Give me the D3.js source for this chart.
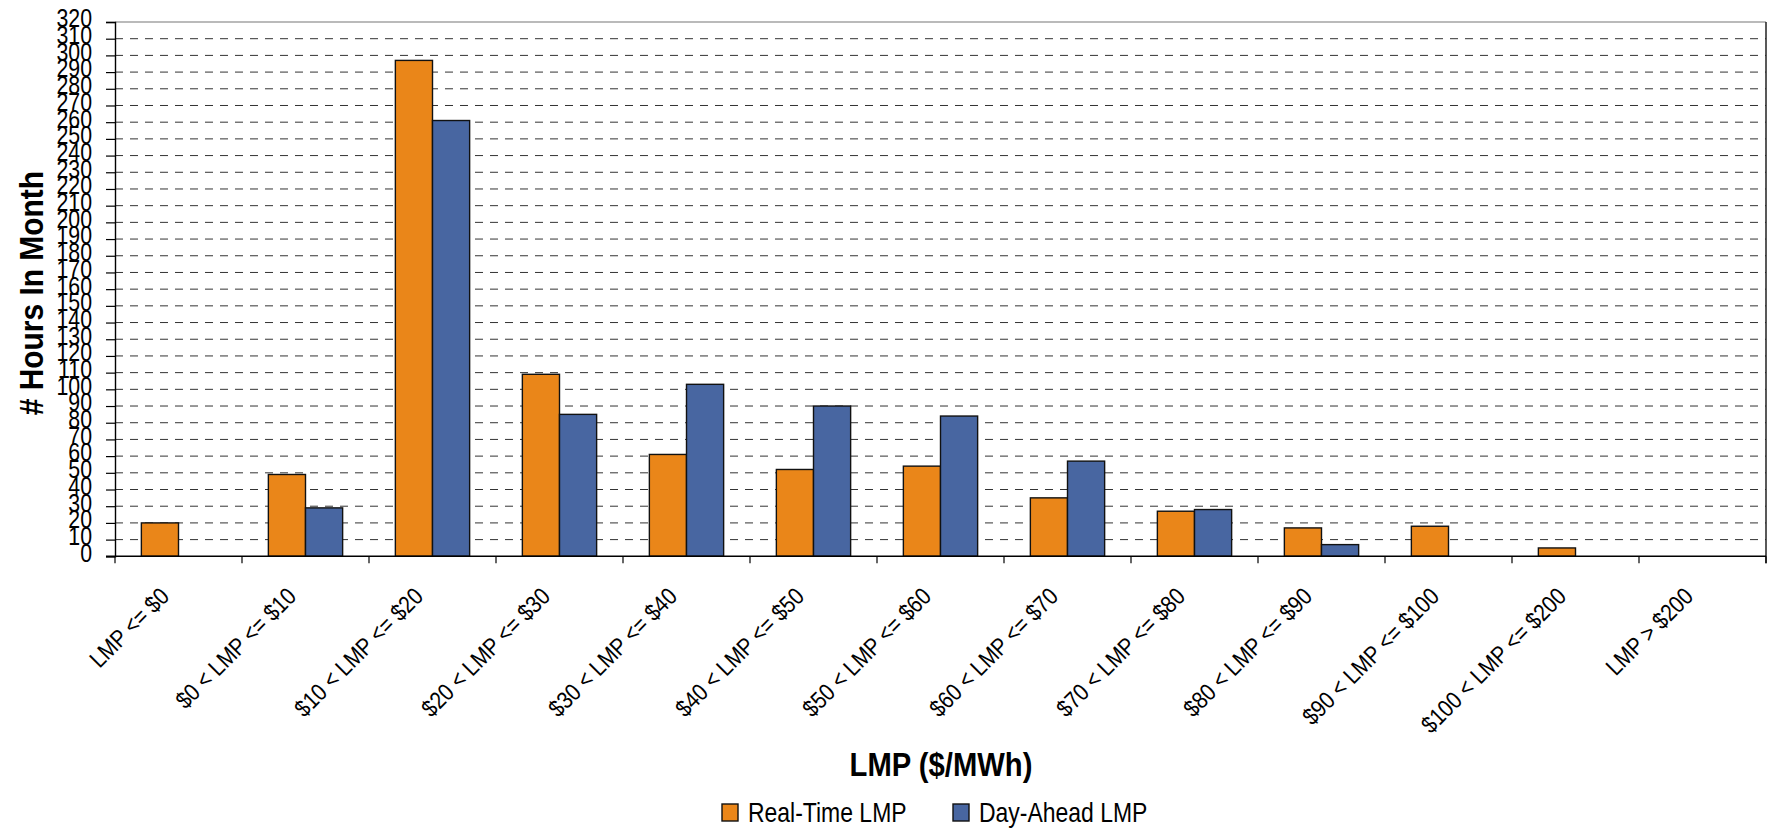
<!DOCTYPE html>
<html>
<head>
<meta charset="utf-8">
<script src="https://cdn.jsdelivr.net/npm/d3@7"></script>
<style>
  html, body { margin: 0; padding: 0; background: #fff; }
  svg { display: block; }
</style>
</head>
<body>
<svg id="chart" width="1767" height="828"></svg>
<script>
// ---- data ----
const categories = [
  "LMP <= $0", "$0 < LMP <= $10", "$10 < LMP <= $20", "$20 < LMP <= $30",
  "$30 < LMP <= $40", "$40 < LMP <= $50", "$50 < LMP <= $60", "$60 < LMP <= $70",
  "$70 < LMP <= $80", "$80 < LMP <= $90", "$90 < LMP <= $100", "$100 < LMP <= $200",
  "LMP > $200"
];
const seriesNames = ["Real-Time LMP", "Day-Ahead LMP"];
const realTime = [20, 49, 297, 109, 61, 52, 54, 35, 27, 17, 18, 5, 0];
const dayAhead = [0, 29, 261, 85, 103, 90, 84, 57, 28, 7, 0, 0, 0];
const yTicks = d3.range(0, 321, 10);
const colors = ["#EA8619", "#4866A1"];

// ---- layout ----
const svg = d3.select("#chart");
const L = 115, R = 1766, T = 22, B = 556.3;
const font = "'Liberation Sans', Arial, sans-serif";
const NARROW = 0.82;

const x0 = d3.scaleBand().domain(categories).range([L, R]).padding(0);
const x1 = d3.scaleBand().domain(seriesNames).range([0, x0.bandwidth()]).paddingInner(0).paddingOuter(0.71);
const y = d3.scaleLinear().domain([0, 320]).range([B, T]);

// gridlines (dashed)
svg.append("g").selectAll("line")
  .data(yTicks.filter(d => d > 0 && d < 320))
  .join("line")
  .attr("x1", L).attr("x2", R)
  .attr("y1", d => y(d)).attr("y2", d => y(d))
  .attr("stroke", "#333").attr("stroke-width", 1)
  .attr("stroke-dasharray", "8,7");

// frame top & right
svg.append("line").attr("x1", L).attr("x2", R).attr("y1", y(320)).attr("y2", y(320))
  .attr("stroke", "#777").attr("stroke-width", 1.2);
svg.append("line").attr("x1", R).attr("x2", R).attr("y1", y(320)).attr("y2", B + 7)
  .attr("stroke", "#222").attr("stroke-width", 1.5);

// bars
const data = categories.map((c, i) => ({ c, vals: [realTime[i], dayAhead[i]] }));
const groups = svg.append("g").selectAll("g")
  .data(data).join("g")
  .attr("transform", d => `translate(${x0(d.c)},0)`);
groups.selectAll("rect")
  .data(d => d.vals.map((v, k) => ({ s: seriesNames[k], v, k })).filter(e => e.v > 0))
  .join("rect")
  .attr("x", e => x1(e.s))
  .attr("width", x1.bandwidth())
  .attr("y", e => y(e.v))
  .attr("height", e => y(0) - y(e.v))
  .attr("fill", e => colors[e.k])
  .attr("stroke", "#111").attr("stroke-width", 1.4);

// y axis (line + ticks via d3 axis, labels drawn condensed)
const yAxis = d3.axisLeft(y).tickValues(yTicks).tickSize(9).tickFormat("");
const gy = svg.append("g").attr("transform", `translate(${L},0)`).call(yAxis);
gy.select(".domain").attr("stroke", "#000").attr("stroke-width", 1.4);
gy.selectAll(".tick line").attr("stroke", "#000").attr("stroke-width", 1.2);
svg.append("g").selectAll("text").data(yTicks).join("text")
  .attr("transform", d => `translate(92,${y(d) - 4}) scale(${NARROW},1)`)
  .attr("text-anchor", "end").attr("dy", "0.36em")
  .attr("font-family", font).attr("font-size", 26).attr("fill", "#000")
  .text(d => d);

// x axis line + boundary ticks
svg.append("line").attr("x1", L - 9).attr("x2", R).attr("y1", B).attr("y2", B)
  .attr("stroke", "#000").attr("stroke-width", 1.4);
const bounds = categories.map(c => x0(c)).concat([x0.range()[1]]);
svg.append("g").selectAll("line").data(bounds).join("line")
  .attr("x1", d => d).attr("x2", d => d).attr("y1", B).attr("y2", B + 7)
  .attr("stroke", "#000").attr("stroke-width", 1.2);

// x tick labels rotated
svg.append("g").selectAll("text").data(categories).join("text")
  .attr("transform", c => `translate(${x0(c) + x0.bandwidth() / 2 - 8},598) rotate(-45) scale(0.86,1)`)
  .attr("text-anchor", "end")
  .attr("font-family", font).attr("font-size", 24).attr("fill", "#000")
  .text(c => c);

// axis titles
svg.append("text")
  .attr("transform", `translate(941,776) scale(0.885,1)`)
  .attr("text-anchor", "middle")
  .attr("font-family", font).attr("font-weight", "bold").attr("font-size", 33)
  .text("LMP ($/MWh)");
svg.append("text")
  .attr("transform", `translate(43,${(T + B) / 2 + 4}) rotate(-90) scale(0.88,1)`)
  .attr("text-anchor", "middle")
  .attr("font-family", font).attr("font-weight", "bold").attr("font-size", 34)
  .text("# Hours In Month");

// legend
const legendX = [722, 953];
const lg = svg.append("g").selectAll("g").data(seriesNames).join("g")
  .attr("transform", (d, i) => `translate(${legendX[i]},804)`);
lg.append("rect").attr("width", 16).attr("height", 17)
  .attr("fill", (d, i) => colors[i]).attr("stroke", "#111").attr("stroke-width", 1.4);
lg.append("text")
  .attr("transform", `translate(26,18) scale(${NARROW},1)`)
  .attr("font-family", font).attr("font-size", 28).attr("fill", "#000")
  .text(d => d);
</script>
</body>
</html>
